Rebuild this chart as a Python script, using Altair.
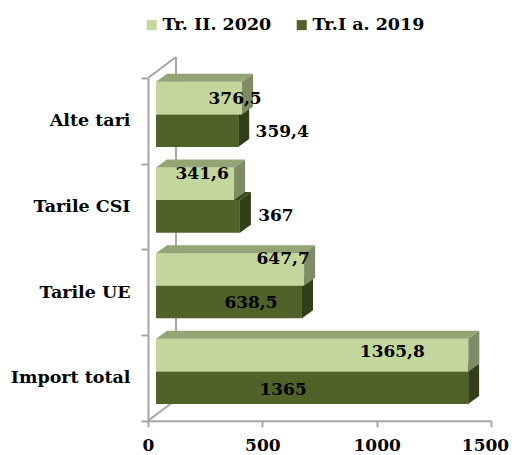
import altair as alt
import pandas as pd

categories = ["Import total", "Tarile UE", "Tarile CSI", "Alte tari"]
series_names = ["Tr. II. 2020", "Tr.I a. 2019"]
values_2020 = [1365.8, 647.7, 341.6, 376.5]
values_2019 = [1365, 638.5, 367, 359.4]
labels_2020 = ["1365,8", "647,7", "341,6", "376,5"]
labels_2019 = ["1365", "638,5", "367", "359,4"]

# label placement relative to the bar end / bar centre, in pixels
label_dx_2020 = [-76, -21, -32, -7]
label_dy_2020 = [-3, -10, -10, 1]
label_dx_2019 = [-185, -51, 36, 44]
label_dy_2019 = [2, 0.5, -0.5, 1]

PLOT_W, PLOT_H = 343, 342.7
X_MAX, Y_MAX = 1500, 4
PX_X = PLOT_W / X_MAX
PX_Y = PLOT_H / Y_MAX
BASE = 8 / PX_X           # bars stand off the front wall
BAR_LOW, BAR_H = 0.195, 0.38
DX, DY = 11 / PX_X, 8 / PX_Y       # bar depth
WALL_DX, WALL_DY = 28 / PX_X, 21 / PX_Y  # chart depth

FONT = "DejaVu Serif"
FS = 17
GREY = "#a6a6a6"
LIGHT, DARK = "#c3d69b", "#4f6228"
LIGHT_TOP, LIGHT_SIDE = "#93a575", "#7d8c62"
DARK_TOP, DARK_SIDE = "#3b4a1e", "#333f1a"

x_s = alt.Scale(domain=[0, X_MAX], nice=False, zero=False)
y_s = alt.Scale(domain=[0, Y_MAX], nice=False, zero=False)

names_js = "[" + ",".join(f"'{c}'" for c in categories) + "]"
y_axis = alt.Axis(
    values=[k / 2 for k in range(9)],
    title=None,
    labelExpr=f"datum.value % 1 ? {names_js}[floor(datum.value)] : ''",
    tickOpacity=alt.condition("datum.value % 1 != 0", alt.value(0), alt.value(1)),
    tickSize=7,
    tickColor=GREY,
    tickWidth=2,
    domainColor=GREY,
    domainWidth=2,
    labelFont=FONT,
    labelFontSize=FS + 0.5,
    labelFontWeight="bold",
    labelColor="#000000",
    labelPadding=11,
    labelOverlap=False,
    labelBound=False,
    grid=False,
)
x_axis = alt.Axis(
    values=[0, 500, 1000, 1500],
    format="d",
    title=None,
    tickSize=6,
    tickColor=GREY,
    tickWidth=2,
    domainColor=GREY,
    domainWidth=2,
    labelFont=FONT,
    labelFontSize=FS,
    labelFontWeight="bold",
    labelColor="#000000",
    labelPadding=11,
    labelOverlap=False,
    labelFlush=False,
    labelOffset=alt.condition("datum.value == 1500", alt.value(-6), alt.value(0)),
    grid=False,
)

bars, tops, sides, texts = [], [], [], []
for name, vals, labs, ldx, ldy, level in [
    (series_names[1], values_2019, labels_2019, label_dx_2019, label_dy_2019, 0),
    (series_names[0], values_2020, labels_2020, label_dx_2020, label_dy_2020, 1),
]:
    for i, v in enumerate(vals):
        x1 = BASE + v
        y0 = i + BAR_LOW + level * BAR_H
        y1 = y0 + BAR_H
        key = f"{name}-{i}"
        bars.append(dict(series=name, x0=BASE, x1=x1, y0=y0, y1=y1))
        tops += [
            dict(series=name, key=key, y=y1, x=BASE, x2=x1),
            dict(series=name, key=key, y=y1 + DY, x=BASE + DX, x2=x1 + DX),
        ]
        sides += [
            dict(series=name, key=key, x=x1, y=y0, y2=y1),
            dict(series=name, key=key, x=x1 + DX, y=y0 + DY, y2=y1 + DY),
        ]
        texts.append(dict(
            label=labs[i],
            x=x1 + ldx[i] / PX_X,
            y=(y0 + y1) / 2 - ldy[i] / PX_Y,
        ))
bars, tops, sides, texts = map(pd.DataFrame, (bars, tops, sides, texts))


def top_layer(name, colour):
    return alt.Chart(tops[tops.series == name]).mark_area(
        orient="horizontal", color=colour
    ).encode(
        y=alt.Y("y:Q", scale=y_s, axis=y_axis),
        x=alt.X("x:Q", scale=x_s, axis=x_axis),
        x2="x2:Q",
        detail="key:N",
    )


def side_layer(name, colour):
    return alt.Chart(sides[sides.series == name]).mark_area(
        orient="vertical", color=colour
    ).encode(
        x=alt.X("x:Q", scale=x_s, axis=x_axis),
        y=alt.Y("y:Q", scale=y_s, axis=y_axis),
        y2="y2:Q",
        detail="key:N",
    )


walls = pd.DataFrame([
    dict(x=0, x2=WALL_DX, y=0, y2=WALL_DY),
    dict(x=0, x2=WALL_DX, y=Y_MAX, y2=Y_MAX + WALL_DY),
    dict(x=WALL_DX, x2=WALL_DX, y=WALL_DY, y2=Y_MAX + WALL_DY),
])
wall_layer = alt.Chart(walls).mark_rule(color=GREY, strokeWidth=2).encode(
    x=alt.X("x:Q", scale=x_s, axis=x_axis),
    x2="x2:Q",
    y=alt.Y("y:Q", scale=y_s, axis=y_axis),
    y2="y2:Q",
)

bar_layer = alt.Chart(bars).mark_bar().encode(
    x=alt.X("x0:Q", scale=x_s, axis=x_axis),
    x2="x1:Q",
    y=alt.Y("y0:Q", scale=y_s, axis=y_axis),
    y2="y1:Q",
    color=alt.Color(
        "series:N",
        scale=alt.Scale(domain=series_names, range=[LIGHT, DARK]),
        legend=alt.Legend(
            title=None,
            orient="none",
            legendX=-5,
            legendY=-62,
            direction="horizontal",
            columns=2,
            columnPadding=21,
            padding=0,
            symbolType="square",
            symbolSize=100,
            symbolStrokeWidth=0,
            labelFont=FONT,
            labelFontSize=FS + 0.5,
            labelFontWeight="bold",
            labelColor="#000000",
            labelOffset=2,
            labelLimit=200,
        ),
    ),
)

text_layer = alt.Chart(texts).mark_text(
    font=FONT, fontSize=FS, fontWeight="bold", color="#000000",
    align="center", baseline="middle",
).encode(
    x=alt.X("x:Q", scale=x_s, axis=x_axis),
    y=alt.Y("y:Q", scale=y_s, axis=y_axis),
    text="label:N",
)

chart = alt.layer(
    wall_layer,
    top_layer(series_names[1], DARK_TOP),
    side_layer(series_names[1], DARK_SIDE),
    bar_layer,
    top_layer(series_names[0], LIGHT_TOP),
    side_layer(series_names[0], LIGHT_SIDE),
    text_layer,
).properties(
    width=PLOT_W,
    height=PLOT_H,
    autosize=alt.AutoSizeParams(type="none"),
    padding={"left": 140, "top": 70, "right": 19, "bottom": 34},
).configure_view(stroke=None)

chart.save("out.html", embed_options={"renderer": "svg", "actions": False})
